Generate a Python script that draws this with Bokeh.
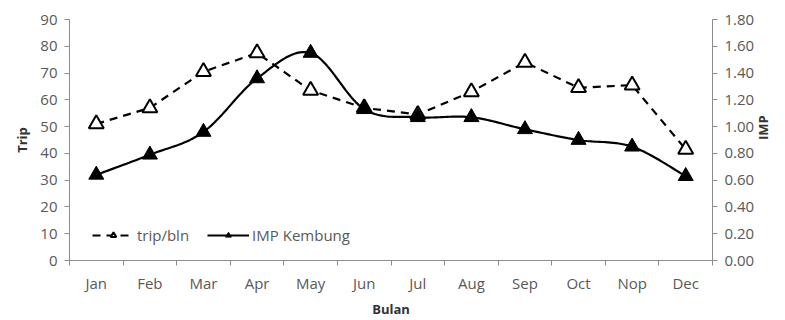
import math
import numpy as np
from bokeh.plotting import figure
from bokeh.models import (Range1d, LinearAxis, FixedTicker, NumeralTickFormatter,
                          Legend, LegendItem, ColumnDataSource)
from bokeh.embed import file_html
from bokeh.resources import INLINE

months = ["Jan", "Feb", "Mar", "Apr", "May", "Jun", "Jul", "Aug", "Sep", "Oct", "Nop", "Dec"]
trip_bln = [51, 57, 70.5, 77.5, 63.5, 57, 54.5, 63, 74, 64.5, 65.5, 41.5]
imp_kembung = [0.64, 0.79, 0.96, 1.36, 1.55, 1.13, 1.07, 1.07, 0.98, 0.90, 0.85, 0.63]

FONT = "Open Sans"
GREY_TXT = "#595959"
GREY_AX = "#8c8c8c"

x = np.arange(len(months)) + 0.5


def smooth(xs, ys, n=20):
    """Catmull-Rom curve through the points (like a smoothed line in a spreadsheet)."""
    xs = np.asarray(xs, float)
    ys = np.asarray(ys, float)
    px = np.concatenate([[xs[0]], xs, [xs[-1]]])
    py = np.concatenate([[ys[0]], ys, [ys[-1]]])
    ox, oy = [], []
    for i in range(1, len(px) - 2):
        t = np.linspace(0, 1, n, endpoint=False)
        for arr, out in ((px, ox), (py, oy)):
            p0, p1, p2, p3 = arr[i - 1], arr[i], arr[i + 1], arr[i + 2]
            m1 = (p2 - p0) / 2
            m2 = (p3 - p1) / 2
            h00 = 2 * t**3 - 3 * t**2 + 1
            h10 = t**3 - 2 * t**2 + t
            h01 = -2 * t**3 + 3 * t**2
            h11 = t**3 - t**2
            out.extend(h00 * p1 + h10 * m1 + h01 * p2 + h11 * m2)
    ox.append(xs[-1])
    oy.append(ys[-1])
    return ox, oy


p = figure(width=785, height=320, output_backend="svg", toolbar_location=None,
           x_range=Range1d(0, 12), y_range=Range1d(0, 90),
           min_border_left=69, min_border_right=73, min_border_top=19, min_border_bottom=59)
p.extra_y_ranges = {"imp": Range1d(0, 1.8)}
p.grid.visible = False
p.outline_line_color = None
p.background_fill_color = "white"
p.border_fill_color = "white"

# x axis: month names centred, tick marks on category boundaries
xa = p.xaxis[0]
xa.ticker = FixedTicker(ticks=list(x), minor_ticks=list(range(0, 13)))
xa.major_label_overrides = {float(v): m for v, m in zip(x, months)}
xa.major_tick_out = 0
xa.major_tick_in = 0
xa.minor_tick_out = 5
xa.minor_tick_in = 0
xa.axis_label = "Bulan"

ya = p.yaxis[0]
ya.ticker = FixedTicker(ticks=list(range(0, 91, 10)))
ya.axis_label = "Trip"
ya.minor_tick_out = 0
ya.minor_tick_in = 0
ya.major_tick_out = 5
ya.major_tick_in = 0

yr = LinearAxis(y_range_name="imp", axis_label="IMP",
                ticker=FixedTicker(ticks=[round(0.2 * i, 2) for i in range(10)]),
                formatter=NumeralTickFormatter(format="0.00"))
yr.major_tick_out = 5
yr.major_tick_in = 0
yr.minor_tick_out = 0
p.add_layout(yr, "right")

for ax in (xa, ya, yr):
    ax.axis_line_color = GREY_AX
    ax.major_tick_line_color = GREY_AX
    ax.minor_tick_line_color = GREY_AX
    ax.major_label_text_font = FONT
    ax.major_label_text_font_size = "15px"
    ax.major_label_text_color = GREY_TXT
    ax.axis_label_text_font = FONT
    ax.axis_label_text_font_style = "bold"
    ax.axis_label_text_font_size = "13px"
    ax.axis_label_text_color = "#333333"
    ax.major_label_standoff = 7
    ax.axis_label_standoff = 6

xa.major_label_standoff = 7
xa.axis_label_standoff = 4
# right-hand title reads bottom-to-top, like the left one
yr.axis_label_orientation = math.pi / 2

# trip per month: dashed straight segments with open triangles
src_t = ColumnDataSource(dict(x=x, y=trip_bln))
lt = p.line("x", "y", source=src_t, line_color="black", line_width=2.2, line_dash="8 6")
st = p.scatter("x", "y", source=src_t, marker="triangle", size=15, fill_color="white",
               line_color="black", line_width=2)

# IMP Kembung on the right-hand axis: smoothed solid line with filled triangles
sx, sy = smooth(x, imp_kembung)
li = p.line(sx, sy, y_range_name="imp", line_color="black", line_width=2.2)
si = p.scatter(x, imp_kembung, y_range_name="imp", marker="triangle", size=15,
               fill_color="black", line_color="black")

legend = Legend(items=[LegendItem(label="trip/bln", renderers=[lt, st]),
                       LegendItem(label="IMP Kembung", renderers=[li, si])],
                location=(23, 15), orientation="horizontal",
                glyph_width=42, glyph_height=14, label_standoff=3, spacing=18,
                background_fill_alpha=0, border_line_color=None,
                label_text_font=FONT, label_text_font_size="15px",
                label_text_color=GREY_TXT, padding=4, margin=0)
p.add_layout(legend)

open("out.html", "w").write(file_html(p, INLINE))
